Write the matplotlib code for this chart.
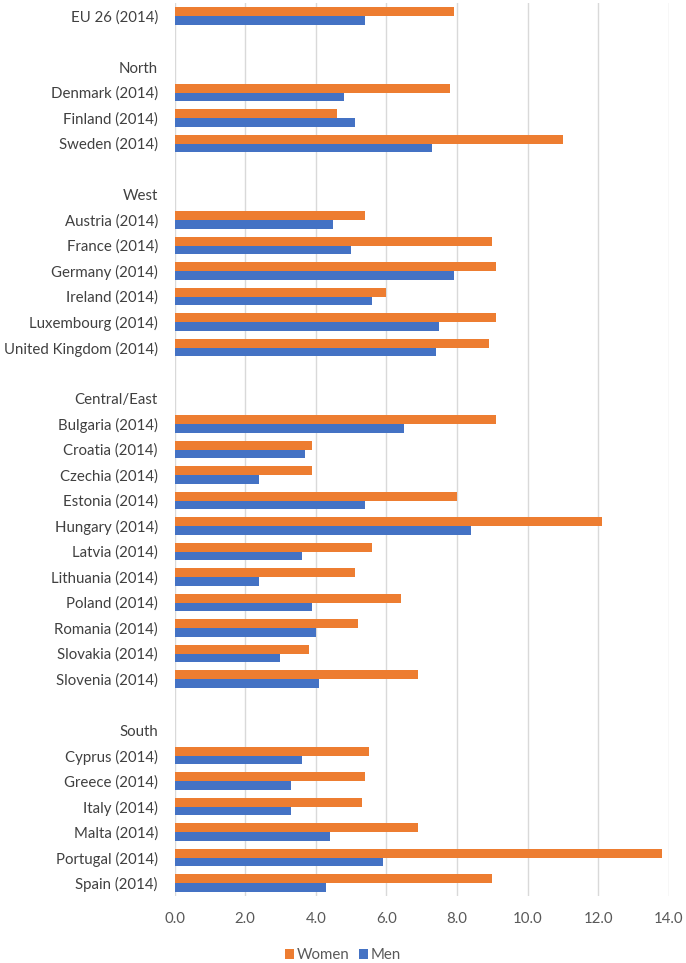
import matplotlib.pyplot as plt
import numpy as np
from matplotlib.ticker import FormatStrFormatter

plt.rcParams['font.family'] = ['Lato', 'DejaVu Sans']

# Filas de arriba hacia abajo: "" = fila vacía, cabeceras de grupo sin valores
labels = [
    "EU 26 (2014)", "", "North",
    "Denmark (2014)", "Finland (2014)", "Sweden (2014)", "", "West",
    "Austria (2014)", "France (2014)", "Germany (2014)", "Ireland (2014)",
    "Luxembourg (2014)", "United Kingdom (2014)", "", "Central/East",
    "Bulgaria (2014)", "Croatia (2014)", "Czechia (2014)", "Estonia (2014)",
    "Hungary (2014)", "Latvia (2014)", "Lithuania (2014)", "Poland (2014)",
    "Romania (2014)", "Slovakia (2014)", "Slovenia (2014)", "", "South",
    "Cyprus (2014)", "Greece (2014)", "Italy (2014)", "Malta (2014)",
    "Portugal (2014)", "Spain (2014)",
]

nan = np.nan
women = [
    7.9, nan, nan,
    7.8, 4.6, 11.0, nan, nan,
    5.4, 9.0, 9.1, 6.0, 9.1, 8.9, nan, nan,
    9.1, 3.9, 3.9, 8.0, 12.1, 5.6, 5.1, 6.4, 5.2, 3.8, 6.9, nan, nan,
    5.5, 5.4, 5.3, 6.9, 13.8, 9.0,
]
men = [
    5.4, nan, nan,
    4.8, 5.1, 7.3, nan, nan,
    4.5, 5.0, 7.9, 5.6, 7.5, 7.4, nan, nan,
    6.5, 3.7, 2.4, 5.4, 8.4, 3.6, 2.4, 3.9, 4.0, 3.0, 4.1, nan, nan,
    3.6, 3.3, 3.3, 4.4, 5.9, 4.3,
]

ORANGE = "#ED7D31"
BLUE = "#4472C4"

fig = plt.figure(figsize=(6.86, 9.63), dpi=100)
ax = fig.add_axes([0.2544, 0.0698, 0.9752 - 0.2544, 0.9966 - 0.0698])

y = np.arange(len(labels))
h = 0.34
ax.barh(y - h / 2, np.nan_to_num(women), height=h, color=ORANGE, label="Women", zorder=3)
ax.barh(y + h / 2, np.nan_to_num(men), height=h, color=BLUE, label="Men", zorder=3)

ax.set_ylim(len(labels) - 0.5, -0.5)
ax.set_yticks(y)
ax.set_yticklabels(labels, fontsize=10.8, color="#404040")
ax.set_xlim(0, 14)
ax.set_xticks(np.arange(0, 15, 2))
ax.xaxis.set_major_formatter(FormatStrFormatter("%.1f"))
ax.tick_params(axis="x", labelsize=10.8, labelcolor="#595959", length=0, pad=12)
ax.tick_params(axis="y", length=0, pad=12)
ax.grid(axis="x", color="#d9d9d9", linewidth=1, zorder=0)
for s in ax.spines.values():
    s.set_visible(False)

fig.legend(loc="center", bbox_to_anchor=(0.5, 0.008), ncol=2, frameon=False,
           fontsize=10.8, handlelength=0.6, handleheight=0.6, handletextpad=0.2,
           columnspacing=0.6, labelcolor="#595959")

fig.savefig("out.png", dpi=100)
